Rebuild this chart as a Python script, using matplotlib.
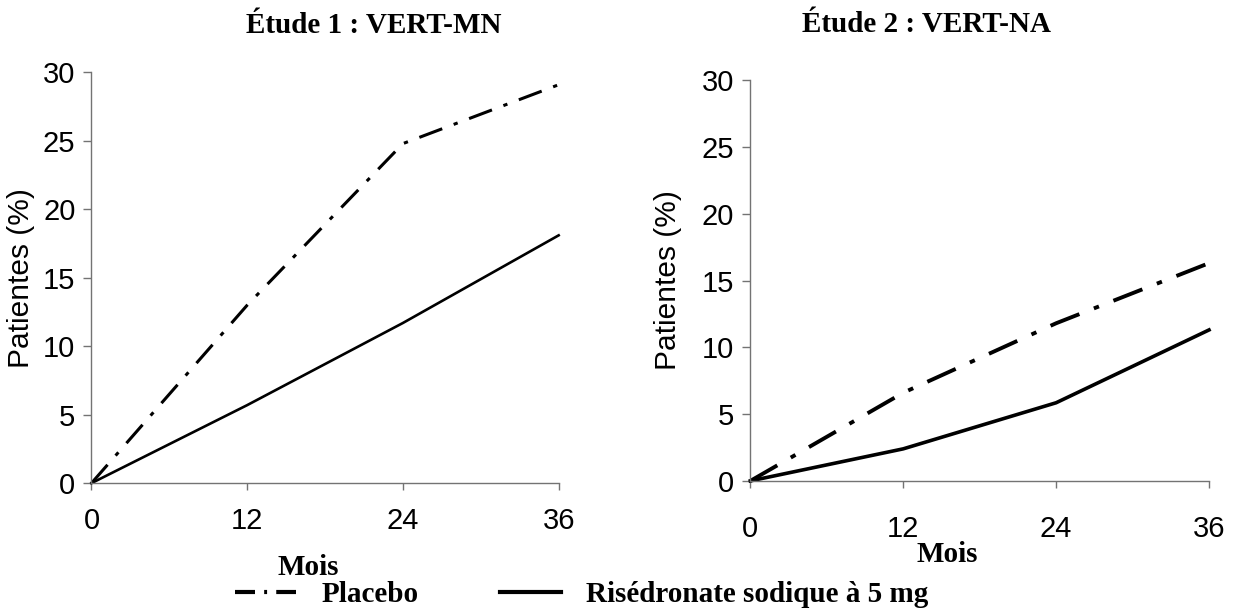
import numpy as np
import matplotlib.pyplot as plt
from matplotlib.lines import Line2D

# data
months = [0, 12, 24, 36]
placebo_mn = [0, 13.0, 24.8, 29.1]
rise_mn = [0, 5.7, 11.7, 18.1]
placebo_na = [0, 6.6, 11.8, 16.3]
rise_na = [0, 2.4, 5.85, 11.3]

titles = ['Étude 1 : VERT-MN', 'Étude 2 : VERT-NA']
xticks = [0, 12, 24, 36]
yticks = [0, 5, 10, 15, 20, 25, 30]

sans = 'Liberation Sans'
serif = 'Liberation Serif'
dashdot = (0, (8, 4, 1.4, 4))

fig = plt.figure(figsize=(12.39, 6.12), dpi=100)
ax1 = fig.add_axes([0.0738, 0.2105, 0.3771, 0.6712])
ax2 = fig.add_axes([0.6056, 0.2142, 0.3702, 0.6549])

panels = [
    (ax1, placebo_mn, rise_mn, 2.2, 1.9, 12, -0.121),
    (ax2, placebo_na, rise_na, 2.8, 2.6, 19.5, -0.149),
]
for ax, plac, rise, lw_p, lw_r, xpad, ylab_x in panels:
    ax.plot(months, plac, color='black', lw=lw_p, linestyle=dashdot, clip_on=False)
    ax.plot(months, rise, color='black', lw=lw_r, clip_on=False)
    ax.set_xlim(0, 36)
    ax.set_ylim(0, 30)
    ax.set_xticks(xticks)
    ax.set_yticks(yticks)
    for s in ['top', 'right']:
        ax.spines[s].set_visible(False)
    for s in ['left', 'bottom']:
        ax.spines[s].set_color('0.45')
        ax.spines[s].set_linewidth(1.0)
    ax.tick_params(axis='x', length=5, width=1, color='0.45', pad=xpad)
    ax.tick_params(axis='y', length=5.5, width=1, color='0.45', pad=6)
    for lab in ax.get_xticklabels() + ax.get_yticklabels():
        lab.set_fontfamily(sans)
        lab.set_fontsize(21)
    ax.set_ylabel('Patientes (%)', fontfamily=sans, fontsize=21.5)
    ax.yaxis.set_label_coords(ylab_x, 0.5)

fig.text(0.3016, 0.958, titles[0], ha='center', va='center',
         fontfamily=serif, fontweight='bold', fontsize=21)
fig.text(0.7474, 0.960, titles[1], ha='center', va='center',
         fontfamily=serif, fontweight='bold', fontsize=21)

fig.text(0.2486, 0.0735, 'Mois', ha='center', va='center',
         fontfamily=serif, fontweight='bold', fontsize=21)
fig.text(0.7649, 0.0936, 'Mois', ha='center', va='center',
         fontfamily=serif, fontweight='bold', fontsize=21)

# legend at bottom
handles = [Line2D([], [], color='black', lw=3, linestyle=(0, (4.8, 2.2, 0.7, 2.2))),
           Line2D([], [], color='black', lw=3)]
labels = ['Placebo', 'Risédronate sodique à 5 mg']
fig.legend(handles, labels, loc='center left', bbox_to_anchor=(0.1897, 0.028), ncol=2,
           frameon=False, prop={'family': serif, 'weight': 'bold', 'size': 21},
           handlelength=2.1, columnspacing=2.8, handletextpad=0.86,
           borderpad=0, borderaxespad=0)

fig.savefig('out.png', dpi=100)
